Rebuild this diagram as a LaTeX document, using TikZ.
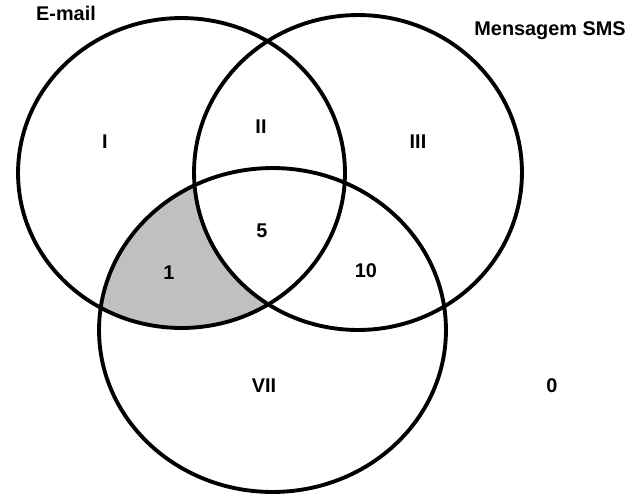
\documentclass[tikz,border=0pt]{standalone}
\usepackage{fontspec}
\setmainfont{Liberation Sans}
\usepackage{tikz}
\usetikzlibrary{positioning}

\begin{document}
\begin{tikzpicture} [x=0.02cm, y=-0.02cm]
    % Venn diagram of three sets, 1 unit = 1 pixel of the picture
    \tikzstyle{setline} = [draw=black, line width=2.2pt]
    \tikzstyle{lbl} = [font=\fontsize{11.3}{13}\selectfont\bfseries, inner sep=0pt]
    \definecolor{regiongray}{RGB}{192,192,192}

    \useasboundingbox (0,0) rectangle (643,495);

    % centres of the three sets
    \coordinate (Cmail) at (181.5,173);
    \coordinate (Csms) at (358,172.5);
    \coordinate (Cbot) at (272.5,330);

    % shaded part: e-mail and bottom set, but not SMS
    \begin{scope}
        \clip (Cmail) ellipse [x radius=3.27cm, y radius=3.10cm];
        \clip (Cbot) ellipse [x radius=3.47cm, y radius=3.24cm];
        \fill[regiongray] (Cbot) ellipse [x radius=3.47cm, y radius=3.24cm];
        \fill[white] (Csms) ellipse [x radius=3.28cm, y radius=3.15cm];
    \end{scope}

    % the three sets
    \draw[setline] (Cmail) ellipse [x radius=3.27cm, y radius=3.10cm];
    \draw[setline] (Csms) ellipse [x radius=3.28cm, y radius=3.15cm];
    \draw[setline] (Cbot) ellipse [x radius=3.47cm, y radius=3.24cm];

    % set names
    \node (email) [lbl] at (66,13) {E-mail};
    \node (sms) [lbl] at (550,31) {Mensagem SMS};

    % region labels using forloop
    \foreach \name/\x/\y/\txt in {I/105/142/I, II/261/127/II, III/418/142/III,
        five/262/231/5, one/169/273/1, ten/366/271/10, VII/264/386/VII, out/552/386/0} {
        \node (R\name) [lbl] at (\x,\y) {\txt};
    }

\end{tikzpicture}
\end{document}
